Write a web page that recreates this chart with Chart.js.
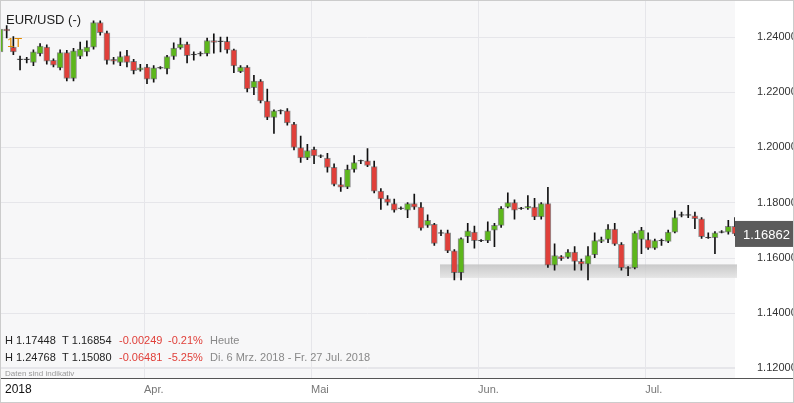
<!DOCTYPE html>
<html><head><meta charset="utf-8">
<script src="https://cdn.jsdelivr.net/npm/chart.js@4/dist/chart.umd.min.js"></script>
<style>body{margin:0;background:#fff}</style>
</head><body><canvas id="c" width="794" height="403"></canvas>
<script>
const opens=[1.2345,1.2427,1.2362,1.2318,1.2318,1.2307,1.2338,1.2362,1.2314,1.2287,1.2342,1.2249,1.2328,1.2345,1.2362,1.2451,1.2414,1.2318,1.2307,1.2331,1.2311,1.2280,1.2290,1.2246,1.2287,1.2283,1.2328,1.2359,1.2373,1.2335,1.2338,1.2338,1.2386,1.2383,1.2383,1.2352,1.2273,1.2290,1.2215,1.2239,1.2167,1.2108,1.2132,1.2132,1.2084,1.1999,1.1961,1.1992,1.1968,1.1961,1.1927,1.1865,1.1855,1.1920,1.1951,1.1951,1.1930,1.1841,1.1813,1.1796,1.1779,1.1772,1.1796,1.1783,1.1717,1.1721,1.1690,1.1690,1.1625,1.1546,1.1676,1.1693,1.1662,1.1662,1.1700,1.1717,1.1783,1.1800,1.1779,1.1779,1.1783,1.1748,1.1796,1.1573,1.1604,1.1601,1.1621,1.1587,1.1577,1.1611,1.1659,1.1666,1.1704,1.1649,1.1563,1.1563,1.1666,1.1666,1.1635,1.1662,1.1659,1.1693,1.1755,1.1755,1.1752,1.1741,1.1673,1.1673,1.1693,1.1693,1.1714];
const closes=[1.2427,1.2421,1.2345,1.2316,1.2316,1.2345,1.2366,1.2311,1.2297,1.2342,1.2249,1.2349,1.2355,1.2362,1.2451,1.2414,1.2314,1.2311,1.2328,1.2307,1.2277,1.2287,1.2246,1.2287,1.2287,1.2328,1.2359,1.2373,1.2331,1.2333,1.2336,1.2386,1.2379,1.2381,1.2352,1.2294,1.2290,1.2211,1.2239,1.2167,1.2108,1.2132,1.2130,1.2088,1.1999,1.1961,1.1988,1.1968,1.1966,1.1927,1.1865,1.1855,1.1920,1.1944,1.1949,1.1934,1.1841,1.1813,1.1800,1.1772,1.1777,1.1796,1.1783,1.1707,1.1735,1.1652,1.1688,1.1625,1.1546,1.1669,1.1697,1.1662,1.1660,1.1697,1.1717,1.1779,1.1800,1.1772,1.1777,1.1786,1.1748,1.1796,1.1573,1.1608,1.1597,1.1621,1.1587,1.1577,1.1608,1.1662,1.1666,1.1704,1.1649,1.1563,1.1561,1.1690,1.1700,1.1635,1.1662,1.1662,1.1693,1.1745,1.1753,1.1753,1.1741,1.1676,1.1671,1.1690,1.1691,1.1714,1.1686];
const highs=[1.2440,1.2440,1.2400,1.2330,1.2325,1.2352,1.2375,1.2370,1.2320,1.2352,1.2350,1.2358,1.2380,1.2385,1.2460,1.2460,1.2420,1.2325,1.2345,1.2350,1.2318,1.2300,1.2300,1.2295,1.2292,1.2332,1.2378,1.2395,1.2380,1.2345,1.2345,1.2395,1.2410,1.2398,1.2398,1.2355,1.2295,1.2295,1.2260,1.2245,1.2210,1.2135,1.2135,1.2140,1.2090,1.2040,1.2010,1.2000,1.1972,1.1978,1.1940,1.1890,1.1935,1.1970,1.1953,1.1995,1.1950,1.1850,1.1825,1.1812,1.1784,1.1800,1.1830,1.1800,1.1755,1.1725,1.1700,1.1700,1.1630,1.1672,1.1725,1.1715,1.1666,1.1730,1.1725,1.1785,1.1835,1.1810,1.1782,1.1825,1.1815,1.1800,1.1855,1.1650,1.1608,1.1630,1.1640,1.1595,1.1640,1.1690,1.1675,1.1720,1.1725,1.1655,1.1568,1.1695,1.1710,1.1690,1.1668,1.1668,1.1700,1.1770,1.1765,1.1790,1.1765,1.1745,1.1690,1.1695,1.1698,1.1735,1.1745];
const lows=[1.2330,1.2395,1.2335,1.2280,1.2305,1.2295,1.2330,1.2300,1.2290,1.2280,1.2240,1.2240,1.2320,1.2330,1.2355,1.2405,1.2300,1.2300,1.2295,1.2290,1.2265,1.2275,1.2230,1.2235,1.2283,1.2265,1.2318,1.2355,1.2305,1.2315,1.2330,1.2330,1.2340,1.2345,1.2340,1.2270,1.2270,1.2200,1.2190,1.2160,1.2100,1.2050,1.2120,1.2080,1.1990,1.1945,1.1955,1.1940,1.1962,1.1910,1.1860,1.1840,1.1850,1.1910,1.1940,1.1930,1.1835,1.1775,1.1790,1.1765,1.1775,1.1745,1.1775,1.1700,1.1710,1.1645,1.1680,1.1618,1.1520,1.1520,1.1655,1.1635,1.1658,1.1655,1.1640,1.1710,1.1780,1.1740,1.1775,1.1775,1.1738,1.1740,1.1565,1.1555,1.1590,1.1598,1.1555,1.1555,1.1520,1.1600,1.1655,1.1655,1.1645,1.1555,1.1535,1.1560,1.1615,1.1630,1.1630,1.1645,1.1655,1.1690,1.1748,1.1745,1.1705,1.1670,1.1670,1.1615,1.1690,1.1685,1.1680];
const yTicks=[1.12,1.14,1.16,1.18,1.20,1.22,1.24];
const monthLabels=['Apr.','Mai','Jun.','Jul.'];
const monthIdx=[22,47,72,97];
const lastPrice=1.16862;
const band=[1.1576,1.1527];
const labels=opens.map((_,i)=>i);
const bodies=opens.map((o,i)=>Math.abs(o-closes[i])<0.0003?[o-0.00015,o+0.00015]:[o,closes[i]]);
const bodyCol=opens.map((o,i)=>Math.abs(o-closes[i])<0.0003?'#222':(closes[i]>=o?'#5db61c':'#e0403a'));
const deco={id:'deco',beforeDatasetsDraw(ch){const c=ch.ctx,y=ch.scales.y,x=ch.scales.x,a=ch.chartArea;
 c.save();c.fillStyle='#f7f7f8';c.fillRect(0,0,a.right,a.bottom);
 c.strokeStyle='#e6e6ea';c.lineWidth=1;
 yTicks.forEach(t=>{const p=Math.round(y.getPixelForValue(t))+.5;c.beginPath();c.moveTo(0,p);c.lineTo(a.right,p);c.stroke();});
 monthIdx.forEach(i=>{const p=Math.round(x.getPixelForValue(i)-3)+.5;c.beginPath();c.moveTo(p,0);c.lineTo(p,a.bottom);c.stroke();});
 const b0=y.getPixelForValue(band[0]),b1=y.getPixelForValue(band[1]);
 const g=c.createLinearGradient(0,b0,0,b1);g.addColorStop(0,'rgba(190,190,190,0.8)');g.addColorStop(1,'rgba(225,225,225,0.8)');
 c.fillStyle=g;c.fillRect(x.getPixelForValue(66)-1,b0,a.right-x.getPixelForValue(66)+3,b1-b0);
 c.restore();},
 afterDraw(ch){const c=ch.ctx,y=ch.scales.y,x=ch.scales.x,a=ch.chartArea;c.save();
 c.font='13px Arial, "Liberation Sans"';c.fillStyle='#222';c.textBaseline='middle';c.fillText('EUR/USD (-)',6,20);
 c.fillStyle='#e08a00';c.fillText('1T',7,43);
 c.font='11px Arial, "Liberation Sans"';
 const rows=[['H 1.17448','T 1.16854','-0.00249','-0.21%','Heute',341],['H 1.24768','T 1.15080','-0.06481','-5.25%','Di. 6 Mrz. 2018 - Fr. 27 Jul. 2018',358]];
 rows.forEach(r=>{c.fillStyle='#222';c.fillText(r[0],5,r[5]);c.fillText(r[1],62,r[5]);c.fillStyle='#e0403a';c.fillText(r[2],119,r[5]);c.fillText(r[3],168,r[5]);c.fillStyle='#888';c.fillText(r[4],210,r[5]);});
 c.strokeStyle='#e6e6ea';c.beginPath();c.moveTo(0,367.5);c.lineTo(a.right,367.5);c.stroke();
 c.font='8px Arial, "Liberation Sans"';c.fillStyle='#999';c.fillText('Daten sind indikativ',5,374);
 c.strokeStyle='#555';c.beginPath();c.moveTo(0,a.bottom+.5);c.lineTo(794,a.bottom+.5);c.stroke();
 c.font='12px Arial, "Liberation Sans"';c.fillStyle='#111';c.fillText('2018',5,390);
 c.font='11px Arial, "Liberation Sans"';c.fillStyle='#777';
 monthIdx.forEach((i,k)=>c.fillText(monthLabels[k],x.getPixelForValue(i)-3,390));
 const py=y.getPixelForValue(lastPrice);c.fillStyle='#5a5a5a';c.fillRect(a.right,py-13,794-a.right,26);
 c.fillStyle='#fff';c.font='13px Arial, "Liberation Sans"';c.textAlign='center';c.fillText('1.16862',(a.right+794)/2+2,py+1);
 c.strokeStyle='#ccc';c.strokeRect(.5,.5,793,402);
 c.restore();}};
new Chart(document.getElementById('c'),{type:'bar',
 data:{labels,datasets:[
  {data:lows.map((l,i)=>[l,highs[i]]),backgroundColor:'#111',barThickness:1,grouped:false,order:2},
  {data:bodies,backgroundColor:bodyCol,borderColor:'rgba(60,60,60,0.55)',borderWidth:1,borderSkipped:false,barThickness:6,grouped:false,order:1}]},
 options:{responsive:false,animation:false,devicePixelRatio:1,
  layout:{padding:{top:0,bottom:25,left:0,right:0}},
  plugins:{legend:{display:false},tooltip:{enabled:false}},
  scales:{x:{display:false,offset:false,min:-0.6,max:111.5},
   y:{position:'right',min:1.1165,max:1.2458,afterFit(s){s.width=59;},
    afterBuildTicks(s){s.ticks=yTicks.map(v=>({value:v}));},
    grid:{display:false},border:{display:false},
    ticks:{callback:v=>v.toFixed(5),color:'#333',font:{size:11,family:'Arial'},padding:14}}}},
 plugins:[deco]});
</script></body></html>
